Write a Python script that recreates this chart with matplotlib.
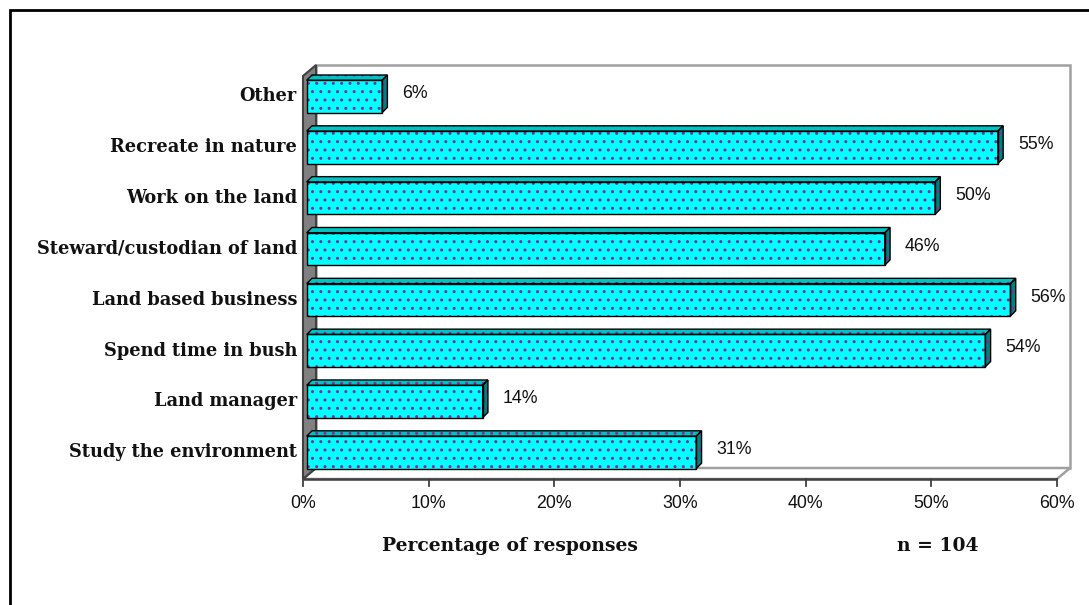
import matplotlib
matplotlib.use('Agg')
import matplotlib.pyplot as plt
from matplotlib.patches import Polygon, Rectangle

# Survey answers, bottom to top
categories = ['Study the environment', 'Land manager', 'Spend time in bush',
              'Land based business', 'Steward/custodian of land',
              'Work on the land', 'Recreate in nature', 'Other']
values = [31, 14, 54, 56, 46, 50, 55, 6]
x_ticks = [0, 10, 20, 30, 40, 50, 60]
x_title = 'Percentage of responses'
n_label = 'n = 104'

W, H = 1089, 605
fig = plt.figure(figsize=(W / 100, H / 100), dpi=100)

# axes covers the front plane of the 3-D frame (pixel coords from top-left)
left_px, right_px = 303, 1057
top_px, bottom_px = 76, 479
ax = fig.add_axes([left_px / W, 1 - bottom_px / H,
                   (right_px - left_px) / W, (bottom_px - top_px) / H])
y0, ytop = -0.525, 7.403
ax.set_xlim(0, 60)
ax.set_ylim(y0, ytop)
ax.axis('off')

sx = (right_px - left_px) / 60.0      # pixels per percent
sy = (bottom_px - top_px) / (ytop - y0)  # pixels per category step


def px(dx, dy):
    return dx / sx, dy / sy


wall_dx, wall_dy = px(13, 11)
bar_dx, bar_dy = px(5.3, 5.3)
bar_x0 = px(3.7, 0)[0]
half_h = px(0, 16.2)[1]

CYAN = '#00ffff'
TOP = '#00c4c4'
SIDE = '#008080'
DOTS = '#8a2a9a'
WALL = '#a0a0a0'
DARK = '#404040'


def add(poly_pts, face, hatch=True, lw=1.0, edge='black', z=3):
    ax.add_patch(Polygon(poly_pts, closed=True, facecolor=face, edgecolor=DOTS,
                         lw=0, hatch='..' if hatch else None, zorder=z,
                         clip_on=False))
    ax.add_patch(Polygon(poly_pts, closed=True, fill=False, edgecolor=edge,
                         lw=lw, zorder=z + 0.1, clip_on=False))


# back wall
ax.add_patch(Polygon([(wall_dx, y0 + wall_dy), (60 + wall_dx, y0 + wall_dy),
                      (60 + wall_dx, ytop + wall_dy), (wall_dx, ytop + wall_dy)],
                     closed=True, facecolor='white', edgecolor=WALL, lw=1.8,
                     zorder=1, clip_on=False))
# floor
ax.add_patch(Polygon([(0, y0), (60, y0), (60 + wall_dx, y0 + wall_dy),
                      (wall_dx, y0 + wall_dy)],
                     closed=True, facecolor='white', edgecolor=WALL, lw=1.8,
                     zorder=1.2, clip_on=False))
# left side wall
ax.add_patch(Polygon([(0, y0), (0, ytop), (wall_dx, ytop + wall_dy),
                      (wall_dx, y0 + wall_dy)],
                     closed=True, facecolor='#808080', edgecolor=DARK, lw=1.5,
                     zorder=1.5, clip_on=False))
# front axis line and ticks
ax.plot([0, 60], [y0, y0], color=DARK, lw=1.8, zorder=2, clip_on=False,
        solid_capstyle='butt')
tick_len = px(0, 7)[1]
for t in x_ticks:
    ax.plot([t, t], [y0, y0 - tick_len], color=DARK, lw=1.3, zorder=2,
            clip_on=False)
    ax.text(t, y0 - px(0, 24)[1], f'{t}%', ha='center', va='center',
            fontsize=12.8, family='Liberation Sans', color='#111111')

# bars
label_gap = px(15, 0)[0]
for i, (cat, v) in enumerate(zip(categories, values)):
    x0, x1 = bar_x0, bar_x0 + v
    yb, yt = i - half_h, i + half_h
    add([(x0, yb), (x1, yb), (x1, yt), (x0, yt)], CYAN)
    add([(x0, yt), (x1, yt), (x1 + bar_dx, yt + bar_dy), (x0 + bar_dx, yt + bar_dy)], TOP)
    add([(x1, yb), (x1 + bar_dx, yb + bar_dy), (x1 + bar_dx, yt + bar_dy), (x1, yt)], SIDE)
    ax.text(x1 + bar_dx + label_gap, i + bar_dy / 2, f'{v}%', ha='left',
            va='center', fontsize=12.8, family='Liberation Sans', color='#111111')
    ax.text(-px(6, 0)[0], i, cat, ha='right', va='center', fontsize=12.8,
            family='DejaVu Serif', fontweight='bold', color='#111111')

fig.text(510 / W, 1 - 546 / H, x_title, ha='center', va='center',
         fontsize=13.5, family='DejaVu Serif', fontweight='bold', color='#111111')
fig.text(938 / W, 1 - 546 / H, n_label, ha='center', va='center',
         fontsize=13.5, family='DejaVu Serif', fontweight='bold', color='#111111')

# chart border, open on the right and bottom
fig.add_artist(Rectangle((9.5 / W, -0.1), 2, 1 - 10 / H + 0.1,
                         transform=fig.transFigure, fill=False,
                         edgecolor='black', lw=2))

fig.savefig('out.png', dpi=100)
